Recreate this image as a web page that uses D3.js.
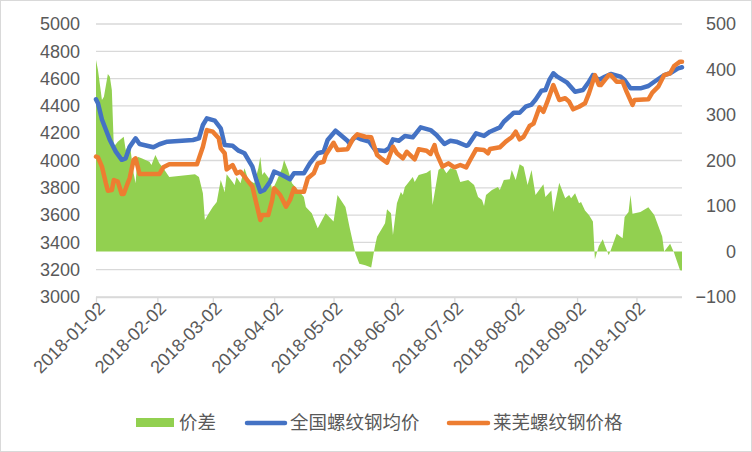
<!DOCTYPE html>
<html><head><meta charset="utf-8">
<script src="https://cdn.jsdelivr.net/npm/d3@7/dist/d3.min.js"></script>
<style>
html,body{margin:0;padding:0;background:#fff;}
svg{display:block;font-family:"Liberation Sans",Arial,sans-serif;}
</style></head>
<body>
<svg id="chart" width="752" height="452"></svg>
<script>
// ---- data ----
const xTickLabels = ["2018-01-02","2018-02-02","2018-03-02","2018-04-02","2018-05-02","2018-06-02","2018-07-02","2018-08-02","2018-09-02","2018-10-02"];
const leftTicks = [3000,3200,3400,3600,3800,4000,4200,4400,4600,4800,5000];
const rightTicks = [-100,0,100,200,300,400,500];
const seriesNames = ["价差","全国螺纹钢均价","莱芜螺纹钢价格"];

// 全国螺纹钢均价
const natDates = ["01-02","01-03","01-05","01-07","01-09","01-12","01-15","01-17","01-19","01-22","01-24","01-31","02-03","02-07","02-20","02-23","02-25","02-27","03-03","03-06","03-08","03-12","03-15","03-18","03-22","03-24","03-26","03-28","03-31","04-02","04-06","04-10","04-12","04-17","04-20","04-24","04-27","04-29","05-03","05-05","05-09","05-10","05-13","05-16","05-20","05-23","05-28","05-30","06-01","06-04","06-07","06-11","06-15","06-20","06-23","06-27","06-30","07-03","07-08","07-09","07-13","07-17","07-20","07-25","07-27","08-01","08-04","08-07","08-10","08-12","08-15","08-17","08-19","08-21","08-23","08-28","09-01","09-05","09-08","09-10","09-13","09-16","09-19","09-24","09-26","09-29","10-04","10-08","10-11","10-16","10-19","10-23","10-25"];
const natValues = [4448,4420,4300,4225,4150,4065,4005,4016,4100,4163,4121,4097,4119,4138,4150,4163,4260,4309,4292,4236,4113,4108,4072,4053,3955,3857,3771,3784,3845,3918,3894,3862,3906,3906,3979,4053,4064,4150,4218,4194,4145,4126,4174,4155,4138,4077,4070,4090,4155,4145,4180,4170,4243,4223,4187,4121,4145,4138,4108,4113,4199,4180,4211,4243,4284,4350,4350,4394,4410,4445,4511,4516,4590,4639,4614,4570,4504,4516,4577,4626,4590,4614,4634,4614,4590,4529,4529,4546,4577,4626,4639,4675,4683];

// 莱芜螺纹钢价格
const lwDates = ["01-02","01-03","01-05","01-07","01-08","01-10","01-11","01-13","01-15","01-16","01-18","01-19","01-21","01-22","01-24","02-03","02-05","02-08","02-22","02-25","02-27","03-02","03-05","03-06","03-08","03-09","03-12","03-14","03-16","03-20","03-22","03-24","03-26","03-27","03-30","04-01","04-02","04-05","04-08","04-10","04-12","04-13","04-17","04-19","04-22","04-24","04-27","04-28","05-02","05-04","05-09","05-12","05-14","05-18","05-21","05-24","05-26","05-29","06-01","06-03","06-06","06-08","06-12","06-14","06-18","06-20","06-22","06-23","06-26","06-29","07-02","07-05","07-08","07-10","07-13","07-17","07-19","07-20","07-25","07-28","07-31","08-02","08-04","08-06","08-09","08-11","08-12","08-14","08-16","08-18","08-21","08-24","08-27","08-29","08-31","09-03","09-06","09-08","09-11","09-13","09-14","09-18","09-19","09-22","09-25","09-27","09-30","10-01","10-08","10-10","10-13","10-16","10-19","10-21","10-24","10-25"];
const lwValues = [4028,4023,3955,3833,3779,3784,3857,3845,3755,3755,3833,3870,4004,4016,3901,3901,3950,3972,3972,4101,4223,4211,4163,4089,4053,3935,3967,3906,3918,3845,3808,3686,3564,3600,3600,3711,3796,3747,3662,3711,3796,3771,3771,3870,3906,3979,3991,4040,4130,4077,4082,4163,4192,4174,4170,4040,4016,3984,4101,4053,4016,4064,4009,4082,4072,4048,4113,4053,3955,3979,3950,3967,3950,4004,4082,4077,4053,4084,4097,4138,4170,4211,4155,4174,4253,4270,4309,4390,4357,4431,4553,4443,4456,4431,4375,4394,4419,4492,4626,4553,4553,4626,4626,4577,4577,4504,4407,4443,4448,4497,4541,4626,4639,4692,4724,4724];

// 价差
const spDates = ["01-02","01-03","01-05","01-06","01-08","01-09","01-10","01-11","01-13","01-16","01-17","01-19","01-21","01-22","01-23","01-25","01-29","01-30","02-01","02-03","02-05","02-08","02-21","02-23","02-25","02-26","02-28","03-02","03-04","03-06","03-08","03-09","03-12","03-13","03-14","03-16","03-18","03-20","03-23","03-25","03-26","03-27","03-28","03-31","04-01","04-03","04-06","04-07","04-09","04-11","04-14","04-17","04-18","04-21","04-24","04-28","05-02","05-04","05-08","05-10","05-13","05-15","05-18","05-21","05-23","05-24","05-26","05-28","05-29","05-31","06-01","06-03","06-05","06-06","06-07","06-11","06-12","06-14","06-18","06-20","06-21","06-24","06-26","06-28","06-30","07-03","07-05","07-09","07-12","07-14","07-16","07-17","07-18","07-21","07-24","07-25","07-27","07-30","07-31","08-02","08-04","08-06","08-08","08-10","08-12","08-16","08-17","08-20","08-21","08-24","08-27","08-29","08-30","09-01","09-03","09-04","09-06","09-08","09-10","09-11","09-13","09-15","09-16","09-18","09-19","09-22","09-25","09-26","09-28","09-29","09-30","10-04","10-08","10-11","10-15","10-16","10-19","10-21","10-24","10-25"];
const spValues = [421,399,333,340,390,384,355,230,241,252,223,238,172,150,208,205,197,190,212,194,183,164,170,164,128,69,84,98,109,157,131,170,153,146,164,150,183,157,150,183,208,168,175,157,135,153,183,201,179,150,135,120,98,84,51,84,66,124,98,55,-4,-27,-30,-35,14,33,47,62,93,84,36,106,131,124,142,164,153,168,173,179,102,179,186,172,183,179,153,157,146,120,113,100,124,135,142,135,157,159,179,157,192,186,146,179,124,148,120,134,87,151,117,124,117,128,106,109,90,80,66,-17,12,27,14,-8,3,39,29,76,87,124,83,87,97,80,33,0,17,-3,-41,-42];

// ---- build ----
const parse = d3.utcParse("%Y-%m-%d");
const mk = (ds, vs) => ds.map((d, i) => ({date: parse("2018-" + d), v: vs[i]}));
const nat = mk(natDates, natValues);
const lw = mk(lwDates, lwValues);
const sp = mk(spDates, spValues);

const svg = d3.select("#chart");
const L = 96, R = 682, T = 24, B = 297;
const x = d3.scaleUtc().domain([parse("2018-01-02"), parse("2018-10-25")]).range([L, R]);
const yL = d3.scaleLinear().domain([3000, 5000]).range([B, T]);
const yR = d3.scaleLinear().domain([-100, 500]).range([B, T]);

svg.append("rect").attr("x", 0.5).attr("y", 0.5).attr("width", 751).attr("height", 451)
  .attr("fill", "#fff").attr("stroke", "#d9d9d9").attr("stroke-width", 1);

// gridlines
svg.append("g").selectAll("line").data(leftTicks).join("line")
  .attr("x1", L).attr("x2", R).attr("y1", d => yL(d)).attr("y2", d => yL(d))
  .attr("stroke", "#d9d9d9").attr("stroke-width", 1.3);

// spread area
svg.append("path").datum(sp)
  .attr("fill", "#92D050")
  .attr("d", d3.area().x(d => x(d.date)).y0(yR(0)).y1(d => yR(d.v)));

// x axis
const xAxis = d3.axisBottom(x).tickValues(xTickLabels.map(parse)).tickSize(5).tickFormat(d3.utcFormat("%Y-%m-%d"));
const gx = svg.append("g").attr("transform", `translate(0,${B})`).call(xAxis);
gx.select(".domain").attr("stroke", "#d9d9d9").attr("stroke-width", 1.3).attr("d", `M${L},0.5H${R}`);
gx.selectAll(".tick line").attr("stroke", "#d9d9d9").attr("stroke-width", 1.3);
gx.selectAll(".tick text")
  .attr("fill", "#595959").attr("font-size", 18)
  .attr("text-anchor", "end")
  .attr("transform", "translate(5,8) rotate(-45)")
  .attr("x", 0).attr("y", 0).attr("dy", "0.35em");

// left axis
const gl = svg.append("g").attr("transform", `translate(${L},0)`)
  .call(d3.axisLeft(yL).tickValues(leftTicks).tickSize(0).tickPadding(16).tickFormat(d3.format("d")));
gl.select(".domain").remove();
gl.selectAll("text").attr("fill", "#595959").attr("font-size", 18);

// right axis
const gr = svg.append("g").attr("transform", `translate(${R},0)`)
  .call(d3.axisRight(yR).tickValues(rightTicks).tickSize(0).tickPadding(0).tickFormat(d3.format("d")));
gr.select(".domain").remove();
gr.selectAll("text").attr("fill", "#595959").attr("font-size", 18)
  .attr("text-anchor", "end").attr("x", 54);

// lines
const line = d3.line().x(d => x(d.date)).y(d => yL(d.v));
svg.append("path").datum(nat).attr("fill", "none").attr("stroke", "#4472C4")
  .attr("stroke-width", 4.5).attr("stroke-linejoin", "round").attr("stroke-linecap", "round").attr("d", line);
svg.append("path").datum(lw).attr("fill", "none").attr("stroke", "#ED7D31")
  .attr("stroke-width", 4.5).attr("stroke-linejoin", "round").attr("stroke-linecap", "round").attr("d", line);

// legend
const lg = svg.append("g").attr("font-family", "'Noto Sans CJK SC','Liberation Sans',sans-serif")
  .attr("font-size", 18.5).attr("fill", "#595959");
lg.append("rect").attr("x", 136).attr("y", 418).attr("width", 38).attr("height", 9).attr("fill", "#92D050");
lg.append("text").attr("x", 179).attr("y", 423).attr("dy", "0.35em").text(seriesNames[0]);
lg.append("line").attr("x1", 247).attr("x2", 285).attr("y1", 423).attr("y2", 423)
  .attr("stroke", "#4472C4").attr("stroke-width", 4.5).attr("stroke-linecap", "round");
lg.append("text").attr("x", 290).attr("y", 423).attr("dy", "0.35em").text(seriesNames[1]);
lg.append("line").attr("x1", 449).attr("x2", 488).attr("y1", 423).attr("y2", 423)
  .attr("stroke", "#ED7D31").attr("stroke-width", 4.5).attr("stroke-linecap", "round");
lg.append("text").attr("x", 493).attr("y", 423).attr("dy", "0.35em").text(seriesNames[2]);
</script>
</body></html>
